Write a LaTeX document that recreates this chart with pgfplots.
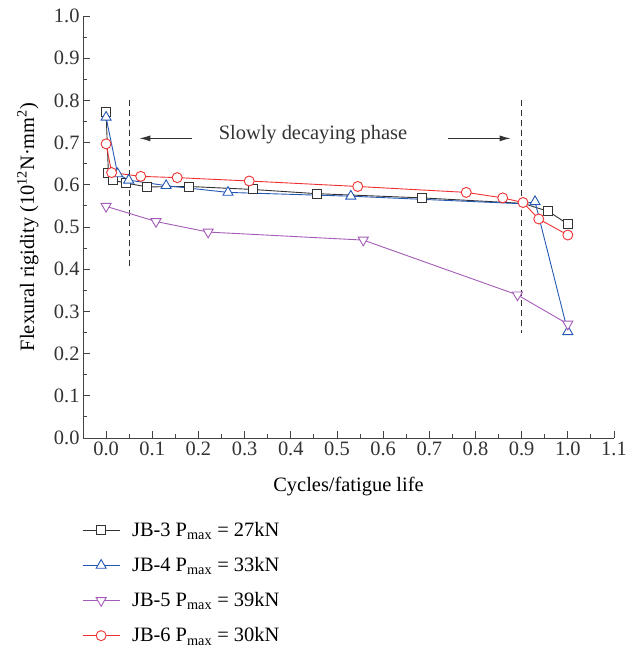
\documentclass[border=0pt]{standalone}
\usepackage{fontspec}
\setmainfont{Liberation Serif}
\usepackage{pgfplots}
\pgfplotsset{compat=1.18}
\usetikzlibrary{arrows.meta}

\definecolor{cblack}{HTML}{333333}
\definecolor{cblue}{HTML}{2458B4}
\definecolor{cpurple}{HTML}{A45BB8}
\definecolor{cred}{HTML}{EE3030}
\definecolor{caxis}{HTML}{444444}

\begin{document}
\begin{tikzpicture}
\useasboundingbox (-83bp,-214bp) rectangle (554bp,438bp);
\begin{axis}[
    at={(0,0)}, anchor=south west,
    scale only axis,
    width=531bp, height=422bp,
    xmin=-0.05, xmax=1.1,
    ymin=0, ymax=1.0,
    axis x line=bottom, axis y line=left,
    axis line style={draw=caxis, line width=1pt, -},
    xtick={0,0.1,...,1.1},
    ytick={0,0.1,...,1.0},
    minor x tick num=1, minor y tick num=1,
    tick align=inside,
    major tick length=7bp, minor tick length=4bp,
    tick style={draw=caxis, line width=0.9pt},
    xticklabel style={/pgf/number format/.cd, fixed, fixed zerofill, precision=1},
    yticklabel style={/pgf/number format/.cd, fixed, fixed zerofill, precision=1},
    /pgf/number format/assume math mode=true,
    font=\fontsize{20.5}{24}\selectfont,
    tick label style={font=\fontsize{20.5}{24}\selectfont, text=cblack},
    label style={font=\fontsize{20.5}{24}\selectfont, text=cblack},
    xlabel={Cycles/fatigue life},
    ylabel={Flexural rigidity (10\textsuperscript{12}N·mm\textsuperscript{2})},
    every axis x label/.style={at={(axis description cs:0.5,0)}, anchor=center, yshift=-49bp},
    every axis y label/.style={at={(axis description cs:-0.104,0.5)}, anchor=center, rotate=90},
    legend style={at={(0,-0.19)}, anchor=north west, draw=none, fill=none,
        font=\fontsize{20.5}{24}\selectfont, row sep=15.5bp, xshift=-4bp,
        /tikz/every odd column/.append style={column sep=10bp}},
    legend cell align=left,
    legend image code/.code={\draw[mark=none] (0bp,0bp) -- (37bp,0bp); \draw plot coordinates {(18.5bp,0bp)};},
    clip=false,
]
% dashed phase markers
\addplot[cblack, line width=1pt, dash pattern=on 6bp off 4bp, forget plot] coordinates {(0.05,0.80) (0.05,0.40)};
\addplot[cblack, line width=1pt, dash pattern=on 6bp off 4bp, forget plot] coordinates {(0.9,0.80) (0.9,0.25)};
\draw[-{Latex[length=11bp,width=6bp]}, line width=1pt, cblack] (axis cs:0.185,0.71) -- (axis cs:0.072,0.71);
\draw[-{Latex[length=11bp,width=6bp]}, line width=1pt, cblack] (axis cs:0.74,0.71) -- (axis cs:0.876,0.71);
\node[text=cblack, font=\fontsize{20.5}{24}\selectfont] at (axis cs:0.448,0.72) {Slowly decaying phase};

\addplot[cblack, line width=0.9pt, mark=square*, mark size=4.5bp,
    mark options={fill=white, solid}, mark indices={1,2,3,4,5,6,7,8,9,11,12}] coordinates {
(0.0,0.773) (0.005,0.627) (0.015,0.611) (0.043,0.604) (0.089,0.595) (0.18,0.596)
(0.317,0.589) (0.456,0.579) (0.684,0.569) (0.903,0.556) (0.958,0.537) (1.0,0.507)
};
\addlegendentry{JB-3 P\textsubscript{max} = 27kN}

\addplot[cblue, line width=0.9pt, mark=triangle*, mark size=5.8bp,
    mark options={fill=white, solid}, mark indices={1,2,3,4,5,6,8,9}] coordinates {
(0.0,0.76) (0.025,0.626) (0.049,0.611) (0.13,0.598) (0.264,0.582) (0.53,0.573)
(0.903,0.555) (0.929,0.56) (1.0,0.252)
};
\addlegendentry{JB-4 P\textsubscript{max} = 33kN}

\addplot[cpurple, line width=0.9pt, mark=triangle*, mark size=5.8bp,
    mark options={fill=white, solid, rotate=180}] coordinates {
(0.0,0.549) (0.108,0.513) (0.221,0.488) (0.557,0.469) (0.891,0.339) (1.0,0.27)
};
\addlegendentry{JB-5 P\textsubscript{max} = 39kN}

\addplot[cred, line width=0.9pt, mark=*, mark size=5bp,
    mark options={fill=white, solid}] coordinates {
(0.0,0.697) (0.012,0.629) (0.075,0.620) (0.154,0.617) (0.31,0.609) (0.545,0.596)
(0.78,0.582) (0.859,0.569) (0.903,0.558) (0.937,0.519) (1.0,0.481)
};
\addlegendentry{JB-6 P\textsubscript{max} = 30kN}
\end{axis}
\end{tikzpicture}
\end{document}
